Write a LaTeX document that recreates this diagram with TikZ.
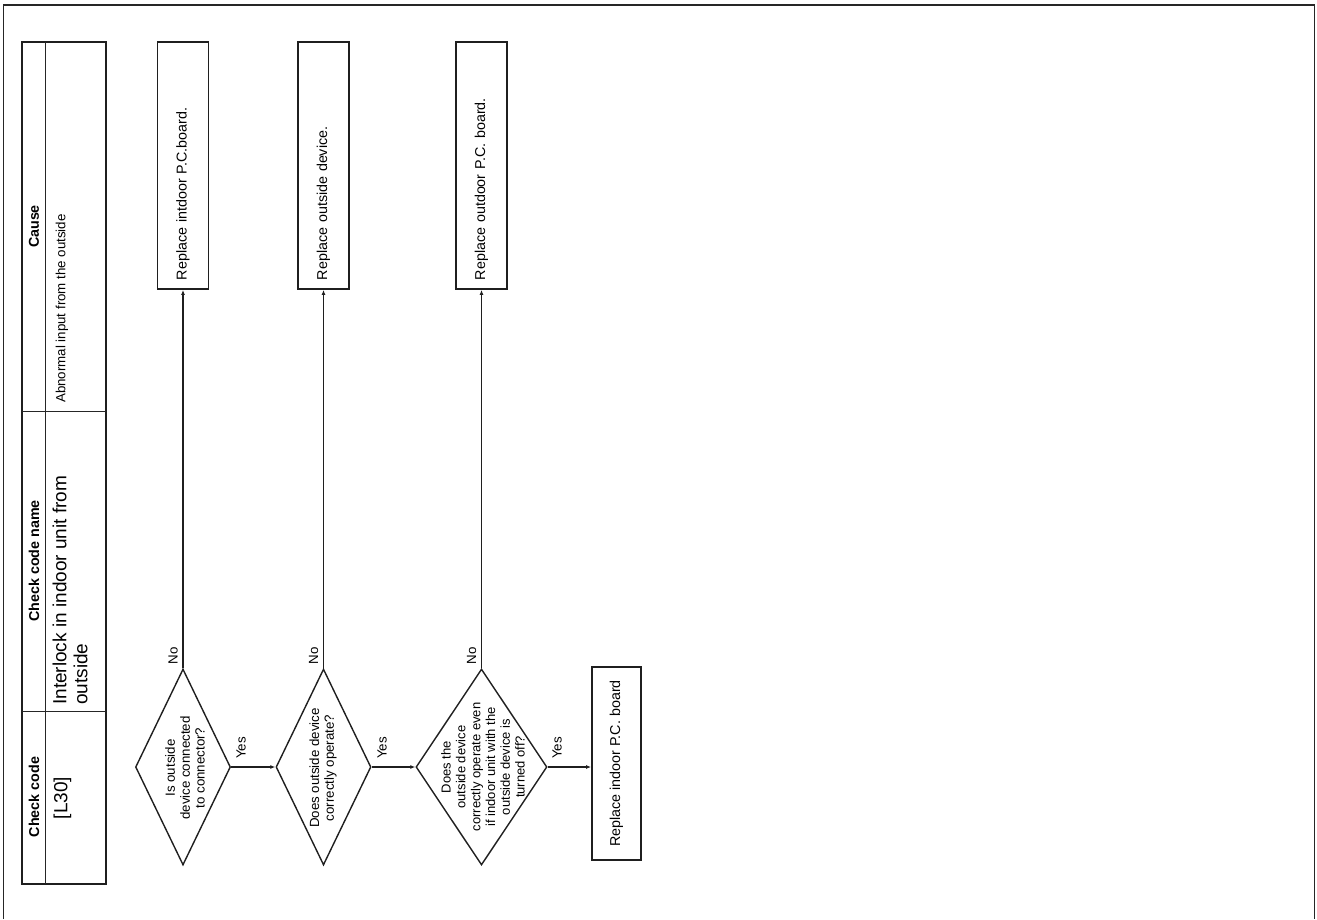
\documentclass[tikz,border=0pt]{standalone}
\usepackage{fontspec}
\setmainfont{Liberation Sans}
\usetikzlibrary{shapes.geometric,arrows.meta}
\begin{document}
\begin{tikzpicture}[x=1pt,y=-1pt,
  dia/.style={diamond, draw=black!88, line width=1.4pt, inner sep=0pt, rotate=90},
  box/.style={rectangle, draw=black!88, line width=1.8pt, rotate=90, font=\fontsize{14.3}{16}\selectfont},
  txt/.style={rotate=90, align=center, font=\fontsize{13.3}{14.8}\selectfont, inner sep=0pt},
  arr/.style={draw=black!88, line width=1.2pt, -{Latex[length=5pt,width=4pt]}},
  lbl/.style={rotate=90, font=\fontsize{13.3}{15}\selectfont, inner sep=0pt},
  hdr/.style={rotate=90, font=\bfseries\fontsize{14.3}{16}\selectfont, inner sep=0pt},
  cell/.style={rotate=90, inner sep=0pt}
]
\useasboundingbox (0,0) rectangle (1317,919);
% outer frame
\draw[draw=black!85, line width=1pt] (3,919) -- (3,4.5) -- (1314.5,4.5) -- (1314.5,919);
\draw[draw=black!85, line width=2pt] (3,4.5) -- (1314.5,4.5);
% table
\draw[draw=black!88, line width=2pt] (22,42) rectangle (106,884);
\draw[draw=black!85, line width=1pt] (45,42) -- (45,884);
\draw[draw=black!85, line width=1pt] (22,411) -- (106,411);
\draw[draw=black!85, line width=1pt] (22,711) -- (106,711);
\node[hdr] (h1) at (34,797) {Check code};
\node[hdr] (h2) at (34,561) {Check code name};
\node[hdr] (h3) at (34,226.5) {Cause};
\node[cell, font=\fontsize{19}{22}\selectfont] (c1) at (62.5,798) {[L30]};
\node[cell, anchor=north west, align=left, font=\fontsize{19}{21}\selectfont] (c2) at (52.5,705) {Interlock in indoor unit from\\outside};
\node[cell, anchor=west, font=\fontsize{13.3}{15}\selectfont] (c3) at (62,403) {Abnormal input from the outside};
% diamonds
\node[dia, minimum width=196pt, minimum height=95pt] (d1) at (183,767) {};
\node[dia, minimum width=196pt, minimum height=95pt] (d2) at (323.5,767) {};
\node[dia, minimum width=196pt, minimum height=131pt] (d3) at (481.5,767) {};
\node[txt] (t1) at (185,768) {Is outside\\device connected\\to connector?};
\node[txt] (t2) at (323,768) {Does outside device\\correctly operate?};
\node[txt, font=\fontsize{13}{14.8}\selectfont] (t3) at (483,767) {Does the\\outside device\\correctly operate even\\if indoor unit with the\\outside device is\\turned off?};
% boxes
\node[box, minimum height=51pt, text width=229pt, inner xsep=9pt, inner ysep=0pt, align=left] (r1) at (183,165.5) {Replace intdoor P.C.board.};
\node[box, minimum height=51pt, text width=229pt, inner xsep=9pt, inner ysep=0pt, align=left] (r2) at (323.5,165.5) {Replace outside device.};
\node[box, minimum height=51pt, text width=229pt, inner xsep=9pt, inner ysep=0pt, align=left] (r3) at (481.5,165.5) {Replace outdoor P.C. board.};
\node[box, minimum width=193pt, minimum height=49pt, inner sep=0pt] (r4) at (616.5,763.5) {Replace indoor P.C. board};
% connectors
\draw[arr] (d1.south) -- (d2.north);
\draw[arr] (d2.south) -- (d3.north);
\draw[arr] (d3.south) -- (d3.south -| r4.north);
\draw[arr] (d1.east) -- (d1.east |- r1.west);
\draw[arr] (d2.east) -- (d2.east |- r2.west);
\draw[arr] (d3.east) -- (d3.east |- r3.west);
% labels
\node[lbl] (no1) at (173,656) {No};
\node[lbl] (no2) at (313.5,656) {No};
\node[lbl] (no3) at (471.5,656) {No};
\node[lbl] (yes1) at (241,748) {Yes};
\node[lbl] (yes2) at (382,748) {Yes};
\node[lbl] (yes3) at (557,748) {Yes};
\end{tikzpicture}
\end{document}
